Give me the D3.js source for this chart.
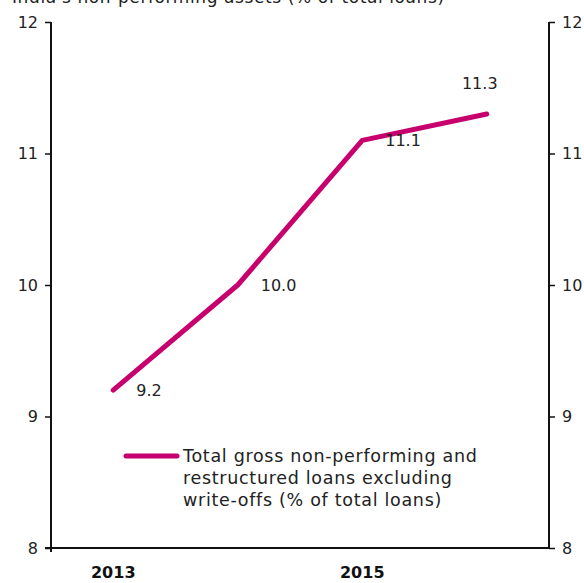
<!DOCTYPE html>
<html>
<head>
<meta charset="utf-8">
<script src="https://cdn.jsdelivr.net/npm/d3@7"></script>
<style>
  body { margin: 0; background: #fff; }
  svg { display: block; font-family: "DejaVu Sans", sans-serif; }
</style>
</head>
<body>
<svg id="chart" width="584" height="583"></svg>
<script>
const title = "India's non-performing assets (% of total loans)";
const years = [2013, 2014, 2015, 2016];
const yearLabels = ["2013", "", "2015", ""];
const npaValues = [9.2, 10.0, 11.1, 11.3];
const yTicks = [8, 9, 10, 11, 12];
const legendLines = [
  "Total gross non-performing and",
  "restructured loans excluding",
  "write-offs (% of total loans)",
];

const svg = d3.select("#chart");
const lineColor = "#c8006e";
const textColor = "#222";

const x = d3.scaleBand().domain(years).range([51, 549]);
const y = d3.scaleLinear().domain([8, 12]).range([548, 22]);
const cx = (d) => x(d) + x.bandwidth() / 2;

// titre (coupé en haut)
svg.append("text")
  .attr("x", 12)
  .attr("y", 3)
  .attr("font-size", 17)
  .attr("letter-spacing", 0.6)
  .attr("fill", textColor)
  .text(title);

// axes gauche / droite
const leftAxis = d3.axisLeft(y).tickValues(yTicks).tickSize(6).tickPadding(7).tickFormat(d3.format("d"));
const rightAxis = d3.axisRight(y).tickValues(yTicks).tickSize(6).tickPadding(7).tickFormat(d3.format("d"));

const gl = svg.append("g").attr("transform", "translate(51,0)").call(leftAxis);
const gr = svg.append("g").attr("transform", "translate(549,0)").call(rightAxis);
[gl, gr].forEach((g) => {
  g.select(".domain").remove();
  g.selectAll("line").attr("stroke", "#111").attr("stroke-width", 1.5);
  g.selectAll("text").attr("font-size", 16).attr("fill", textColor).attr("font-family", "DejaVu Sans");
});
svg.append("line").attr("x1", 51).attr("x2", 51).attr("y1", y(12)).attr("y2", y(8) + 4)
  .attr("stroke", "#111").attr("stroke-width", 2);
svg.append("line").attr("x1", 549).attr("x2", 549).attr("y1", y(12)).attr("y2", y(8))
  .attr("stroke", "#111").attr("stroke-width", 2);

// axe x
svg.append("line").attr("x1", 45).attr("x2", 549).attr("y1", y(8)).attr("y2", y(8))
  .attr("stroke", "#111").attr("stroke-width", 2);
svg.append("g").selectAll("text")
  .data(years)
  .join("text")
  .attr("x", (d) => cx(d))
  .attr("y", 578)
  .attr("text-anchor", "middle")
  .attr("font-size", 16)
  .attr("font-weight", "bold")
  .attr("fill", "#111")
  .text((d, i) => yearLabels[i]);

// ligne
const line = d3.line().x((d, i) => cx(years[i])).y((d) => y(d));
svg.append("path")
  .datum(npaValues)
  .attr("d", line)
  .attr("fill", "none")
  .attr("stroke", lineColor)
  .attr("stroke-width", 5)
  .attr("stroke-linecap", "round")
  .attr("stroke-linejoin", "round");

// étiquettes
svg.append("g").selectAll("text")
  .data(npaValues)
  .join("text")
  .attr("x", (d, i) => (i === 3 ? cx(years[i]) - 7 : cx(years[i]) + 23))
  .attr("y", (d, i) => (i === 3 ? y(d) - 31 : y(d)))
  .attr("dy", "0.35em")
  .attr("text-anchor", (d, i) => (i === 3 ? "middle" : "start"))
  .attr("font-size", 16)
  .attr("fill", textColor)
  .text((d) => d.toFixed(1));

// légende
svg.append("line").attr("x1", 126).attr("x2", 177).attr("y1", 456).attr("y2", 456)
  .attr("stroke", lineColor).attr("stroke-width", 5).attr("stroke-linecap", "round");
svg.append("g").selectAll("text")
  .data(legendLines)
  .join("text")
  .attr("x", 183)
  .attr("y", (d, i) => 462 + i * 22)
  .attr("font-size", 17.5)
  .attr("letter-spacing", 0.7)
  .attr("fill", textColor)
  .text((d) => d);
</script>
</body>
</html>
